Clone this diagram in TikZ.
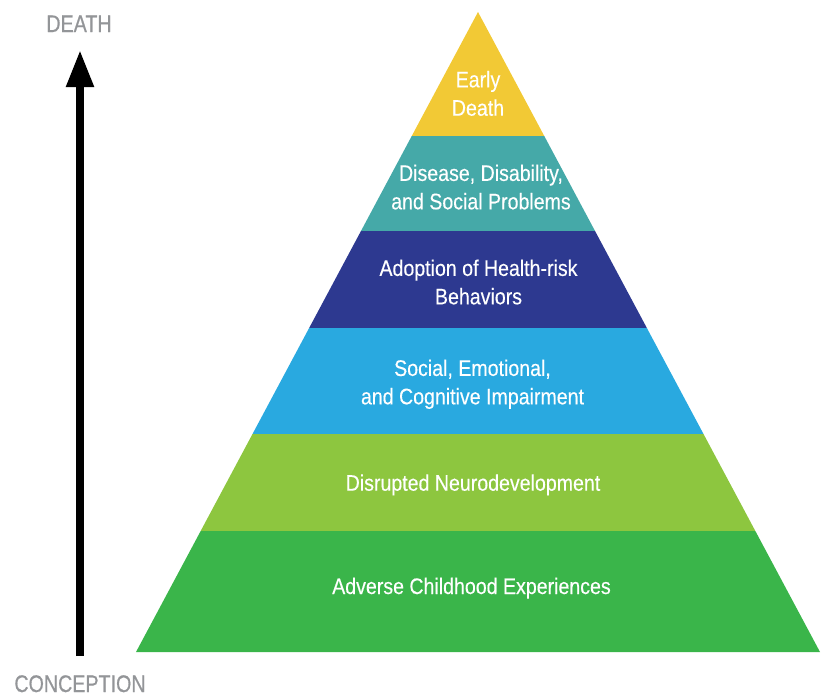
\documentclass[tikz,border=0pt]{standalone}
\usepackage{fontspec}
\usetikzlibrary{arrows.meta,calc}

% Condensed sans faces for the layer captions and the timeline labels
\newfontfamily\layerfont{Liberation Sans}[FakeStretch=0.87,FakeBold=0.25]
\newfontfamily\axisfont{Liberation Sans}[FakeStretch=0.82,FakeBold=0.6]

\definecolor{earlydeath}{HTML}{F2C935}
\definecolor{disease}{HTML}{45A9A8}
\definecolor{riskbehav}{HTML}{2D3990}
\definecolor{impairment}{HTML}{29A9E0}
\definecolor{neurodev}{HTML}{8DC63F}
\definecolor{adverse}{HTML}{3AB54A}
\definecolor{axisgray}{HTML}{939598}

\begin{document}
\begin{tikzpicture}[x=1pt,y=-1pt,
  layer/.style={fill=#1, draw=none},
  layertext/.style={text=white, align=center, inner sep=0pt, anchor=base,
    font=\layerfont\fontsize{22.5}{28.4}\selectfont},
  axislabel/.style={text=axisgray, inner sep=0pt, anchor=base,
    font=\axisfont\fontsize{24}{24}\selectfont},
  timeline/.style={line width=8pt, draw=black,
    -{Triangle[width=26pt,length=37pt]}}]

\useasboundingbox (0,0) rectangle (826,696);

% pyramid outline
\coordinate (apex) at (478,12);
\coordinate (bl) at (136,652);
\coordinate (br) at (820,652);

% layer boundaries along the two slanted edges
\foreach \name/\t in {1/0.19375, 2/0.3421875, 3/0.49375, 4/0.659375, 5/0.8109375}{
  \coordinate (L\name) at ($(apex)!\t!(bl)$);
  \coordinate (R\name) at ($(apex)!\t!(br)$);
}

% layers, top to bottom
\fill[layer=earlydeath] (apex) -- (R1) -- (L1) -- cycle;
\fill[layer=disease]    (L1) -- (R1) -- (R2) -- (L2) -- cycle;
\fill[layer=riskbehav]  (L2) -- (R2) -- (R3) -- (L3) -- cycle;
\fill[layer=impairment] (L3) -- (R3) -- (R4) -- (L4) -- cycle;
\fill[layer=neurodev]   (L4) -- (R4) -- (R5) -- (L5) -- cycle;
\fill[layer=adverse]    (L5) -- (R5) -- (br) -- (bl) -- cycle;

% layer captions (base anchor sits on the last line's baseline)
\node[layertext] (death)   at (478,115.7)   {Early\\Death};
\node[layertext] (disease) at (481,209.3)   {Disease, Disability,\\and Social Problems};
\node[layertext] (risk)    at (478.5,304.3) {Adoption of Health-risk\\Behaviors};
\node[layertext] (impair)  at (472.5,404.3) {Social, Emotional,\\and Cognitive Impairment};
\node[layertext] (neuro)   at (473,490.7)   {Disrupted Neurodevelopment};
\node[layertext] (ace)     at (471.5,594)   {Adverse Childhood Experiences};

% life-course timeline
\node[axislabel] (top)    at (79,32)  {DEATH};
\node[axislabel] (bottom) at (80,692) {CONCEPTION};
\coordinate (timefoot) at (80,656);
\coordinate (timehead) at (80,50);
\draw[timeline] (timefoot) -- (timehead);

\end{tikzpicture}
\end{document}
